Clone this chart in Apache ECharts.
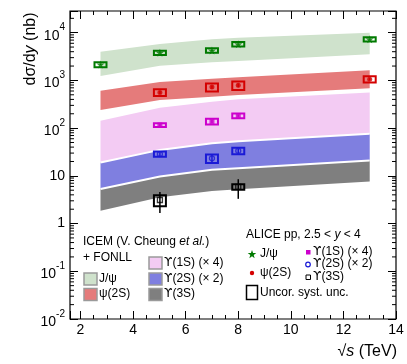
<!DOCTYPE html>
<html>
<head>
<meta charset="utf-8">
<script src="https://cdn.jsdelivr.net/npm/echarts@6/dist/echarts.min.js"></script>
<style>
html, body { margin: 0; padding: 0; background: #fff; }
#chart { width: 407px; height: 364px; }
</style>
</head>
<body>
<div id="chart"></div>
<script>
// ICEM + FONLL bands, dσ/dy (nb) vs sqrt(s) (TeV)
const bandX = [2.76, 5.02, 7, 8, 13]
const jpsiHi = [4000, 5800, 7280, 7850, 10000]
const jpsiLo = [1240, 2040, 2400, 2550, 3530]
const psi2sHi = [611, 929, 1090, 1165, 1630]
const psi2sLo = [241, 390, 457, 497, 686]
const ups1sHi = [142, 269, 359, 403, 555]
const ups1sLo = [19, 35, 48.4, 53, 76]
const ups2sHi = [19, 35, 48.4, 53, 76]
const ups2sLo = [5.3, 9.7, 13.4, 14.5, 20.9]
const ups3sHi = [5.3, 9.7, 13.4, 14.5, 20.9]
const ups3sLo = [1.85, 3.58, 4.79, 5.27, 7.6]

// ALICE pp, 2.5 < y < 4 : value, stat, uncorrelated syst
const jpsiX = [2.76, 5.02, 7, 8, 13]
const jpsiVal = [2150, 3800, 4250, 5750, 7300]
const jpsiStat = [60, 80, 100, 120, 150]
const jpsiSys = [260, 400, 470, 620, 760]
const psi2sX = [5.02, 7, 8, 13]
const psi2sVal = [560, 725, 790, 1060]
const psi2sStat = [40, 60, 70, 60]
const psi2sSys = [90, 140, 160, 160]
const ups1sX = [5.02, 7, 8]
const ups1sVal = [116, 138, 182]
const ups1sStat = [6, 10, 10]
const ups1sSys = [11, 19, 20]
const ups2sX = [5.02, 7, 8]
const ups2sVal = [28.6, 23.3, 33.4]
const ups2sStat = [2.5, 5.5, 3.5]
const ups2sSys = [3.6, 4.7, 5.2]
const ups3sX = [5.02, 8]
const ups3sVal = [3.12, 5.9]
const ups3sStat = [1.45, 2.6]
const ups3sSys = [0.8, 0.8]

// axes
const xMin = 1.6
const xMax = 14
const yMin = 0.01
const yMax = 28500
const yDecades = [0.01, 0.1, 1, 10, 100, 1000, 10000]

const FONT = '"Liberation Sans", Arial, Helvetica, sans-serif'
const UPS_FONT = '"DejaVu Sans", sans-serif'
const C = {
    jpsiBand: '#cfe2cc', psi2sBand: '#e57b7b', ups1sBand: '#f3cbf3', ups2sBand: '#7f7fe0', ups3sBand: '#7f7f7f',
    jpsi: '#007a00', psi2s: '#d40000', ups1s: '#cc00cc', ups2s: '#1a1ad6', ups3s: '#000000'
}
const starPath = 'path://M0,-10L2.35,-3.24L9.51,-3.09L3.8,1.24L5.88,8.09L0,4L-5.88,8.09L-3.8,1.24L-9.51,-3.09L-2.35,-3.24Z'

// log minor ticks 2..9 x 10^n
const yMinorTicks = []
yDecades.forEach(d => {
    for (let k = 2; k <= 9; k++) if (d * k <= yMax) yMinorTicks.push(d * k)
})

// band polygon drawn through the axes
const bandSeries = (name, hi, lo, color, edge) => ({
    type: 'custom',
    name,
    silent: true,
    z: 1,
    data: [[bandX[0], hi[0]]],
    renderItem: (params, api) => {
        const top = bandX.map((x, i) => api.coord([x, hi[i]]))
        const bot = bandX.map((x, i) => api.coord([x, lo[i]])).reverse()
        const children = [{ type: 'polygon', shape: { points: top.concat(bot) }, style: { fill: color } }]
        if (edge) {
            children.push({ type: 'polyline', shape: { points: top }, style: { stroke: '#fff', lineWidth: 2, fill: null } })
        }
        return { type: 'group', children }
    }
})

// syst box + stat bar
const boxSeries = (xs, vals, stat, sys, color) => ({
    type: 'custom',
    silent: true,
    z: 3,
    data: xs.map((x, i) => [x, vals[i], stat[i], sys[i]]),
    renderItem: (params, api) => {
        const x = api.value(0), v = api.value(1), st = api.value(2), sy = api.value(3)
        const c = api.coord([x, v])
        const bHi = api.coord([x, v + sy])
        const bLo = api.coord([x, v - sy])
        const sHi = api.coord([x, v + st])
        const sLo = api.coord([x, v - st])
        return {
            type: 'group',
            children: [
                { type: 'line', shape: { x1: c[0], y1: sHi[1], x2: c[0], y2: sLo[1] }, style: { stroke: color, lineWidth: 1.5 } },
                { type: 'rect', shape: { x: c[0] - 6, y: bHi[1], width: 12, height: bLo[1] - bHi[1] }, style: { fill: 'none', stroke: color, lineWidth: 2 } }
            ]
        }
    }
})

const markerSeries = (xs, vals, symbol, size, color, filled) => ({
    type: 'scatter',
    silent: true,
    z: 4,
    symbol,
    symbolSize: size,
    data: xs.map((x, i) => [x, vals[i]]),
    itemStyle: filled ? { color } : { color: 'rgba(0,0,0,0)', borderColor: color, borderWidth: 1.3 }
})

// log minor ticks on left and right sides
const yMinorSeries = {
    type: 'custom',
    silent: true,
    z: 5,
    data: yMinorTicks.map(v => [5, v]),
    renderItem: (params, api) => {
        const cs = params.coordSys
        const y = api.coord([5, api.value(1)])[1]
        return {
            type: 'group',
            children: [
                { type: 'line', shape: { x1: cs.x, y1: y, x2: cs.x + 4, y2: y }, style: { stroke: '#000', lineWidth: 1 } },
                { type: 'line', shape: { x1: cs.x + cs.width, y1: y, x2: cs.x + cs.width - 4, y2: y }, style: { stroke: '#000', lineWidth: 1 } }
            ]
        }
    }
}

const yLabel = (v) => {
    const e = Math.round(Math.log10(v))
    if (Math.abs(Math.log10(v) - e) > 1e-6) return ''
    if (e === 0) return '1'
    if (e === 1) return '10'
    return '{b|10}{s|' + e + '}'
}

const tickStyle = { show: true, inside: true, length: 8, lineStyle: { color: '#000', width: 1 } }
const minorStyle = { show: true, splitNumber: 4, length: 4, lineStyle: { color: '#000', width: 1 } }
const xAxisBase = {
    type: 'value', min: xMin, max: xMax, minInterval: 2, maxInterval: 2, splitNumber: 6,
    axisLine: { show: false }, splitLine: { show: false }, minorSplitLine: { show: false },
    axisTick: tickStyle, minorTick: minorStyle
}
const yAxisBase = {
    type: 'log', logBase: 10, min: yMin, max: yMax,
    axisLine: { show: false }, splitLine: { show: false },
    axisTick: tickStyle
}

// axis titles and legends
const graphics = []
const titleRich = {
    n: { fontSize: 16, fontFamily: FONT, color: '#000' },
    i: { fontSize: 16, fontFamily: FONT, fontStyle: 'italic', color: '#000' }
}
graphics.push({
    type: 'text', x: 31, y: 49, rotation: Math.PI / 2, silent: true,
    style: { text: '{n|dσ/d}{i|y}{n| (nb)}', align: 'center', verticalAlign: 'middle', rich: titleRich }
})
graphics.push({
    type: 'text', x: 397, y: 352, silent: true,
    style: { text: '{n|√}{i|s}{n| (TeV)}', align: 'right', verticalAlign: 'middle', rich: titleRich }
})

const legRich = {
    n: { fontSize: 12, fontFamily: FONT, color: '#000' },
    i: { fontSize: 12, fontFamily: FONT, fontStyle: 'italic', color: '#000' },
    u: { fontSize: 12, fontFamily: UPS_FONT, color: '#000' }
}
const txt = (x, y, text) => graphics.push({
    type: 'text', x, y, silent: true,
    style: { text, align: 'left', verticalAlign: 'middle', rich: legRich }
})
const legBox = (x, y, color) => graphics.push({
    type: 'rect', silent: true, shape: { x, y, width: 13, height: 12 },
    style: { fill: color, stroke: '#9a9a9a', lineWidth: 1.5 }
})
const starPoints = (cx, cy, r) => {
    const pts = []
    for (let i = 0; i < 10; i++) {
        const a = -Math.PI / 2 + i * Math.PI / 5
        const rr = i % 2 === 0 ? r : r * 0.4
        pts.push([cx + rr * Math.cos(a), cy + rr * Math.sin(a)])
    }
    return pts
}

txt(83, 242, '{n|ICEM (V. Cheung }{i|et al.}{n|)}')
txt(83, 258, '{n|+ FONLL}')
legBox(84, 273, C.jpsiBand); txt(99, 279, '{n|J/ψ}')
legBox(84, 288.5, C.psi2sBand); txt(99, 294, '{n|ψ(2S)}')
legBox(149, 257, C.ups1sBand); txt(164, 263, '{u|ϒ}{n|(1S) (× 4)}')
legBox(149, 273, C.ups2sBand); txt(164, 279, '{u|ϒ}{n|(2S) (× 2)}')
legBox(149, 288.5, C.ups3sBand); txt(164, 294, '{u|ϒ}{n|(3S)}')

txt(246, 235, '{n|ALICE pp, 2.5 < }{i|y}{n| < 4}')
graphics.push({ type: 'polygon', silent: true, shape: { points: starPoints(252, 254.5, 4.5) }, style: { fill: C.jpsi } })
txt(260, 254, '{n|J/ψ}')
graphics.push({ type: 'circle', silent: true, shape: { cx: 252, cy: 273, r: 2.2 }, style: { fill: C.psi2s } })
txt(260, 273, '{n|ψ(2S)}')
graphics.push({ type: 'rect', silent: true, shape: { x: 306, y: 250, width: 4.5, height: 4.5 }, style: { fill: C.ups1s } })
txt(313, 252, '{u|ϒ}{n|(1S) (× 4)}')
graphics.push({ type: 'circle', silent: true, shape: { cx: 308, cy: 264.5, r: 2.3 }, style: { fill: 'none', stroke: C.ups2s, lineWidth: 1.2 } })
txt(313, 264, '{u|ϒ}{n|(2S) (× 2)}')
graphics.push({ type: 'rect', silent: true, shape: { x: 306, y: 275, width: 4.5, height: 4.5 }, style: { fill: 'none', stroke: '#000', lineWidth: 1 } })
txt(313, 277, '{u|ϒ}{n|(3S)}')
graphics.push({ type: 'rect', silent: true, shape: { x: 246.5, y: 285.5, width: 11, height: 14 }, style: { fill: 'none', stroke: '#000', lineWidth: 1.5 } })
txt(260, 293, '{n|Uncor. syst. unc.}')

const chart = echarts.init(document.getElementById('chart'))
chart.setOption({
    animation: false,
    backgroundColor: '#fff',
    textStyle: { fontFamily: FONT },
    grid: { left: 70, right: 11, top: 11, bottom: 45, show: true, borderColor: '#000', borderWidth: 1.2, backgroundColor: 'transparent' },
    xAxis: [
        Object.assign({}, xAxisBase, {
            position: 'bottom',
            axisLabel: {
                color: '#000', fontSize: 14, fontFamily: FONT, margin: 4,
                formatter: (v) => (Math.abs(v % 2) < 1e-9 ? String(v) : '')
            }
        }),
        Object.assign({}, xAxisBase, { position: 'top', axisLabel: { show: false } })
    ],
    yAxis: [
        Object.assign({}, yAxisBase, {
            position: 'left',
            axisLabel: {
                color: '#000', fontSize: 14, fontFamily: FONT, margin: 5, lineHeight: 20,
                formatter: yLabel,
                rich: {
                    b: { fontSize: 14, fontFamily: FONT, color: '#000', lineHeight: 20, verticalAlign: 'bottom' },
                    s: { fontSize: 10, fontFamily: FONT, color: '#000', lineHeight: 10, verticalAlign: 'top' }
                }
            }
        }),
        Object.assign({}, yAxisBase, { position: 'right', axisLabel: { show: false } })
    ],
    graphic: graphics,
    series: [
        bandSeries('J/ψ', jpsiHi, jpsiLo, C.jpsiBand, false),
        bandSeries('ψ(2S)', psi2sHi, psi2sLo, C.psi2sBand, false),
        bandSeries('ϒ(1S)', ups1sHi, ups1sLo, C.ups1sBand, false),
        bandSeries('ϒ(2S)', ups2sHi, ups2sLo, C.ups2sBand, true),
        bandSeries('ϒ(3S)', ups3sHi, ups3sLo, C.ups3sBand, true),
        boxSeries(jpsiX, jpsiVal, jpsiStat, jpsiSys, C.jpsi),
        boxSeries(psi2sX, psi2sVal, psi2sStat, psi2sSys, C.psi2s),
        boxSeries(ups1sX, ups1sVal, ups1sStat, ups1sSys, C.ups1s),
        boxSeries(ups2sX, ups2sVal, ups2sStat, ups2sSys, C.ups2s),
        boxSeries(ups3sX, ups3sVal, ups3sStat, ups3sSys, C.ups3s),
        markerSeries(jpsiX, jpsiVal, starPath, 8, C.jpsi, true),
        markerSeries(psi2sX, psi2sVal, 'circle', 5, C.psi2s, true),
        markerSeries(ups1sX, ups1sVal, 'rect', 5, C.ups1s, true),
        markerSeries(ups2sX, ups2sVal, 'circle', 5, C.ups2s, false),
        markerSeries(ups3sX, ups3sVal, 'rect', 5, C.ups3s, false),
        yMinorSeries
    ]
})
</script>
</body>
</html>
